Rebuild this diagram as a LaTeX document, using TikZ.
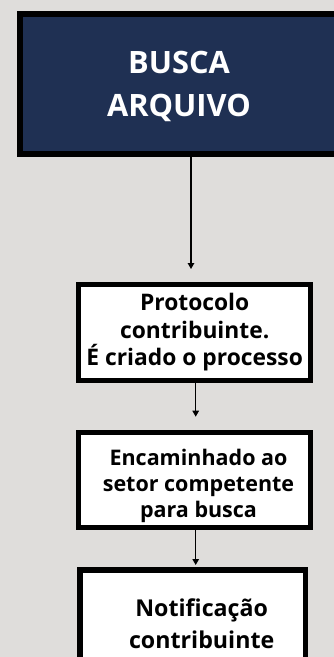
\documentclass[tikz,border=0pt]{standalone}
\usepackage{fontspec}
\setmainfont{Open Sans}
\usetikzlibrary{arrows.meta}
\definecolor{bgc}{HTML}{DFDDDB}
\definecolor{navy}{HTML}{1F3053}
\begin{document}
\begin{tikzpicture}[x=1pt,y=1pt,
  boxstyle/.style={draw=black, fill=white, inner sep=0pt, outer sep=0pt, line width=5pt},
  txt/.style={inner sep=0pt, align=center, text=black},
  arr/.style={draw=black, line width=1.3pt, -{Triangle[width=6.5pt,length=6pt]}}]
\useasboundingbox (0,0) rectangle (334,-657);
\clip (0,0) rectangle (334,-657);
\fill[bgc] (0,0) rectangle (334,-657);
% boxes
\node[boxstyle, fill=navy, line width=6pt, minimum width=340pt, minimum height=140pt] (b1) at (190,-84) {};
\node[boxstyle, minimum width=232pt, minimum height=96pt] (b2) at (194.5,-332.5) {};
\node[boxstyle, minimum width=232pt, minimum height=95pt] (b3) at (194.5,-480) {};
\node[boxstyle, line width=5.5pt, minimum width=225.5pt, minimum height=140pt] (b4) at (192.5,-639.75) {};
% texts
\node[txt, text=white, font=\fontsize{30.8}{43}\selectfont\bfseries] (t1) at (179,-86.5) {BUSCA\\ARQUIVO};
\node[txt, font=\fontsize{22.8}{27.5}\selectfont\bfseries] (t2) at (194.7,-332.4) {Protocolo\\contribuinte.\\É criado o processo};
\node[txt, font=\fontsize{21.5}{26}\selectfont\bfseries] (t3) at (198.5,-486) {Encaminhado ao\\setor competente\\para busca};
\node[txt, font=\fontsize{23.2}{31.5}\selectfont\bfseries] (t4) at (201.7,-623.5) {Notificação\\contribuinte};
% arrows
\draw[arr, shorten >=15.5pt] ([xshift=1pt]b1.south) -- ([xshift=-3.5pt]b2.north);
\draw[arr, shorten >=15.8pt] ([xshift=1.2pt]b2.south) -- ([xshift=1.2pt]b3.north);
\draw[arr, shorten >=4.75pt] ([xshift=1.2pt]b3.south) -- ([xshift=3.2pt]b4.north);
\end{tikzpicture}
\end{document}
